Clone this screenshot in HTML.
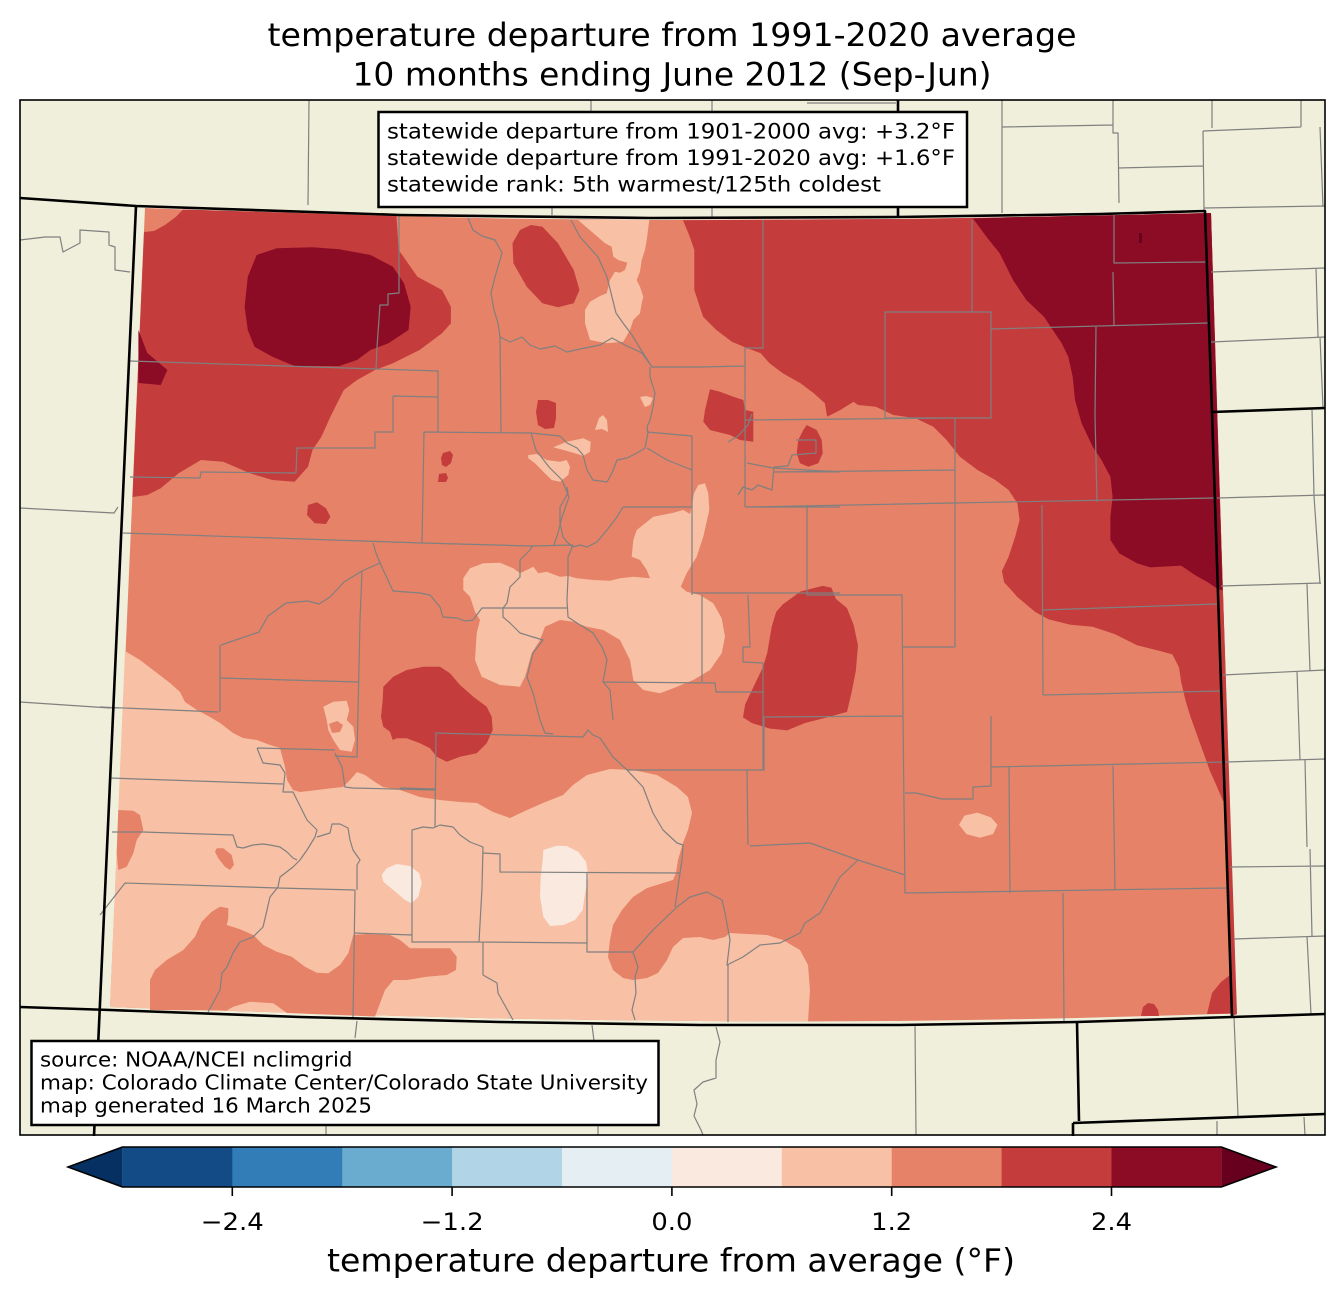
<!DOCTYPE html>
<html><head><meta charset="utf-8">
<style>
html,body{margin:0;padding:0;background:#fff;}
svg{display:block;}
text{font-family:"DejaVu Sans","Liberation Sans",sans-serif;fill:#000;}
</style></head>
<body>
<svg xmlns="http://www.w3.org/2000/svg" width="1344" height="1299" viewBox="0 0 1344 1299">
<rect width="1344" height="1299" fill="#fff"/>
<!-- title -->
<text x="672" y="46" font-size="32" text-anchor="middle" textLength="809" lengthAdjust="spacingAndGlyphs">temperature departure from 1991-2020 average</text>
<text x="672" y="85.5" font-size="32" text-anchor="middle" textLength="639" lengthAdjust="spacingAndGlyphs">10 months ending June 2012 (Sep-Jun)</text>

<!-- map background -->
<rect x="20" y="100" width="1305" height="1035" fill="#efefdb"/>

<!-- Colorado base fill (medium) -->
<path fill="#e58267" d="M145,208 L183,209.5 L300,213 L400,216 L500,218.5 L650,220 L800,219.5 L900,219 L1000,217.5 L1100,215.5 L1211,213 L1236,1013.5 L1150,1016 L1077,1018 L1000,1019.5 L900,1021 L800,1021.5 L700,1021 L600,1020 L500,1018.5 L400,1016 L300,1013 L200,1010 L110,1007 Z"/>

<!-- light (bin7) regions -->
<g fill="#f8c0a4">
<path d="M578,220 L591.7,231.7 L605,243.3 L611.7,246.7 L613.3,256.7 L618.3,260 L627.3,262.7 L625,270 L620,272.7 L615,271.7 L610,280 L606.7,293.3 L600,296 L590,301.7 L585,310 L585,323.3 L590,340 L606.7,343.3 L623.3,341.7 L630,330 L633.3,320 L640,313.3 L641.7,303.3 L643.3,296.7 L640,286.7 L636.7,280 L640,271.7 L641.7,260 L645,250 L646.7,240 L649.3,220 Z"/>
<path d="M463.3,578.3 L470,568.3 L483.3,563.3 L500,562.7 L513.3,568.3 L520,573.3 L526.7,570 L533.3,566.7 L538.3,573.3 L546.7,571.7 L560,576.7 L568.3,576 L576.7,578.3 L593.3,580 L610,580.7 L620,578.3 L633.3,576.7 L650,578.3 L646.7,570 L640,560 L631.7,556.7 L633.3,540 L636.7,530 L653.3,516.7 L673.3,512.7 L683.3,510 L690,514 L691.7,506.7 L694,493.3 L698.3,485 L705,483.3 L708.3,493.3 L709.3,510 L703.3,536.7 L696.7,556.7 L686.7,573.3 L680.7,586.7 L686.7,591.7 L700,595 L713.3,603.3 L721.7,618.3 L725,636.7 L721.7,653.3 L710,670 L693.3,680 L673.3,688.3 L660,693.3 L643.3,690 L633.3,680 L630,660 L620,640 L603.3,630 L586.7,626.7 L573.3,621.7 L560,620 L545,626.7 L540,640 L531.7,653.3 L525,676.7 L520,686.7 L500,685 L481.7,676.7 L475,660 L476.7,633.3 L480,620 L475,611.7 L470,596.7 L463.3,590 Z"/>
<path d="M125,651 L140,660 L157,673 L170,683 L180,692 L185,702 L197,710 L210,717 L220,723 L233,733 L243,738 L257,740 L270,745 L280,748 L285,767 L287,780 L293,790 L300,792 L317,790 L333,788 L343,787 L350,780 L357,772 L365,775 L375,782 L383,787 L400,790 L420,797 L440,800 L460,802 L477,803 L493,812 L510,818 L527,810 L543,803 L563,795 L573,785 L587,775 L610,769 L633,770 L657,775 L677,787 L688,797 L692,813 L688,830 L683,843 L678,860 L676,873 L673,880 L660,884 L647,888 L633,897 L622,910 L613,925 L610,940 L608,957 L613,970 L623,978 L633,980 L647,978 L658,973 L667,960 L673,947 L683,938 L700,937 L713,940 L725,937 L730,933 L747,934 L767,935 L783,940 L800,950 L808,965 L810,990 L808,1021.5 L700,1021 L600,1020 L500,1018.5 L400,1016 L300,1013 L200,1010 L110,1007 Z"/>
<path d="M323.3,706.7 L333.3,701.7 L346.7,700.7 L349.3,710 L346.7,720 L353.3,726.7 L355,740 L351.7,751.7 L340,750 L333.3,740 L328.3,730 L326.7,720 Z"/>
<path d="M640,397 L646,396 L653,398 L650,405 L645,407 Z"/>
<path d="M595,430 L599,418 L603,415 L607,420 L608,432 L602,429 Z"/>
<path d="M553.3,447.3 L566.7,441.7 L583.3,438.3 L590.7,441.7 L590,451.7 L583.3,456 L573.3,452.7 L563.3,450 Z"/>
<path d="M528.3,455 L536.7,454 L546.7,460 L560,461.7 L566.7,460 L570,466.7 L568.3,475 L560,481.7 L551.7,480 L543.3,471.7 L535,463.3 L528.3,458.3 Z"/>
<path d="M964.3,815.6 L977.6,812.6 L990.9,817.4 L997.5,824.8 L993.1,834.1 L979.8,837.8 L966.5,834.1 L959,824.8 Z"/>
</g>

<!-- medium overlays -->
<g fill="#e58267">
<path d="M118.3,810 L133.3,810.7 L140,815 L143.3,830 L136.7,840 L133.3,853.3 L126.7,866.7 L118.3,870 L116.7,853.3 Z"/>
<path d="M216.7,848.3 L223.3,848.3 L231.7,855 L234,865 L230,870 L225,866.7 L218.3,858.3 L215,851.7 Z"/>
<path d="M150,1010 L150,980 L155,970 L166.7,960 L183.3,950 L195,936.7 L201.7,921.7 L211.7,911.7 L220,906.7 L228.3,908.3 L228.3,918.3 L226.7,925 L240,929.3 L253.3,935 L263.3,945 L276.7,951.7 L291.7,956.7 L305,966.7 L316.7,972.7 L328.3,973.3 L340,965 L348.3,953.3 L353.3,935 L366.7,934 L390,935 L400,940 L410,948.3 L433.3,948.3 L450,948.3 L456.7,956.7 L456,970 L446.7,975 L426.7,976.7 L406.7,980 L393.3,980 L385,990 L380,1003.3 L375,1016.5 L300,1013.5 L287,1013 L273.3,1003.3 L250,1001.7 L233.3,1006.7 L226.7,1010.5 Z"/>
<path d="M329,724 L337,721 L343,725 L340,732 L332,733 Z"/>
</g>

<!-- lightest (bin6) -->
<g fill="#fae9df">
<path d="M386.7,868.3 L396.7,864 L410,866 L419.3,873.3 L421.7,883.3 L418.3,896.7 L411.7,903.3 L405,900 L393.3,890 L383.3,881.7 L381.7,875 Z"/>
<path d="M543.3,850 L556.7,845.7 L566.7,846 L578.3,851.7 L586,861.7 L588.3,876.7 L585,893.3 L582.7,910 L575,920 L563.3,925 L550,926 L543.3,916.7 L540,896.7 L540.7,876.7 L542.7,860 Z"/>
</g>

<!-- red (bin9) -->
<g fill="#c43c3c">
<path d="M183,209.5 L300,213 L396.4,216.3 L398.7,250 L417.4,276.7 L442,290 L450.9,306.7 L450.9,323.3 L442,333.3 L419.6,350 L392.9,363.3 L375,370 L357,380 L343.8,390 L330.4,416.7 L321.4,436.7 L312.5,450 L308,466.7 L294.6,481.7 L272.3,480 L250,473.3 L223.2,461.7 L200.9,460 L178.6,473.3 L160.7,488.3 L147.3,495 L132.5,497 L144,232 L154,231 L165,225 L176,216.7 Z"/>
<path d="M683,220.3 L800,219.5 L900,219 L1000,217.5 L1100,215.5 L1211,213 L1229.5,800 L1223,800.7 L1216.6,785.9 L1210,771.1 L1203.4,752.6 L1196.7,734.1 L1190.1,715.6 L1185.6,700.7 L1181.2,682.2 L1179,667.4 L1172.4,654.4 L1159.1,650.7 L1137,645.2 L1114.8,634.1 L1092.7,626.7 L1070.5,624.8 L1048.4,619.3 L1035.1,611.9 L1017.4,597 L1004.1,582.2 L1001.9,571.1 L1008.6,556.7 L1015.2,536.7 L1019.6,520 L1017.4,503.3 L1008.6,490 L995.3,480 L977.6,470 L959.9,456.7 L946.6,440 L933.3,426.7 L915.6,418.3 L893.5,415 L875.8,406.7 L858,405 L853.6,401.7 L840.3,410 L827.1,416.7 L824.9,403.3 L813.8,393.3 L800.5,383.3 L782.8,373.3 L769.5,363.3 L760.7,353.3 L747.4,348.3 L731.9,341.7 L716.4,330 L703.1,316.7 L694.3,290 L694.3,250 L689.8,236.7 Z"/>
<path d="M1212,412 L1217,412 L1237,1014 L1232,1016 Z"/>
<path d="M531,225 L542.4,226.7 L558,243.3 L573.7,270 L579.5,290 L573.7,303.3 L558,307.3 L542.4,303.3 L526.8,286.7 L513.4,263.3 L512.5,243.3 L520,230 Z"/>
<path d="M538,400 L548,400 L556,403 L556,418 L554,428 L545,429 L538,425 L536,412 Z"/>
<path d="M443,453 L450,451 L453,455 L451,463 L446,467 L442,465 L441,458 Z"/>
<path d="M439,474 L446,473 L448,478 L446,482 L438,482 Z"/>
<path d="M308,505 L317,502.3 L326,508.3 L330.4,516.7 L326,524 L314.7,523.3 L307,515 Z"/>
<path d="M710,389.3 L720,391.7 L733.3,396.7 L743.3,400 L745,410 L753.3,411.7 L753.3,441.7 L740,440 L730,435 L710,430 L703.3,421.7 L705,410 Z"/>
<path d="M806.7,425 L816.7,430 L821.7,440 L822.7,453.3 L818.3,463.3 L808.3,466.7 L800,463.3 L796.7,453.3 L798.3,440 L803.3,430 Z"/>
<path d="M383.3,686.7 L393.3,676.7 L406.7,670 L423.3,666.7 L440,666.7 L450,673.3 L460,685 L473.3,696.7 L486.7,706.7 L491.7,716.7 L492.7,730 L486.7,743.3 L476.7,753.3 L460,756.7 L446.7,761.7 L436.7,756.7 L430,748.3 L420,743.3 L406.7,738.3 L396.7,738.3 L392.7,740 L390,731.7 L383.3,726.7 L381,716.7 L382.7,700 Z"/>
<path d="M782.8,604.4 L800.5,591.5 L822.6,585.9 L831.5,587.8 L835.9,598.9 L847,608.1 L853.6,624.8 L858,645.2 L855.8,671.1 L851.4,693.3 L847,711.9 L827.1,717.4 L804.9,723 L787.2,730.4 L769.5,728.5 L751.8,723 L743,717.4 L745.2,704.4 L754,685.9 L762.9,667.4 L767.3,652.6 L771.7,626.7 L776.2,611.9 Z"/>
<path d="M1230,975 L1221,982 L1212,993 L1207,1014 L1236,1013.5 Z"/>
<path d="M1141,1016 L1143,1007 L1148,1003 L1154,1004 L1158,1010 L1159,1016 Z"/>
</g>

<!-- dark (bin10) -->
<g fill="#8c0c25">
<path d="M256.7,255 L276.8,248.3 L312.5,247.3 L339.3,249.3 L370.5,255 L392.9,266.7 L404,283.3 L410.7,306.7 L408.5,330 L388.4,343.3 L370.5,350 L357,360 L339.3,366 L294.6,366 L272.3,356.7 L254.5,346.7 L247.8,330 L244.6,306.7 L247.8,276.7 Z"/>
<path d="M138.4,330 L147.3,353 L167.4,370 L160.7,385 L138.4,383 Z"/>
<path d="M973,218.5 L1000,217.5 L1100,215.5 L1211,213 L1222.5,590 L1218.8,589.6 L1207.8,582.2 L1194.5,574.8 L1181.2,565.6 L1150.2,567.4 L1136.9,563.3 L1119.2,553.3 L1110.4,540 L1110.4,516.7 L1112.6,496.7 L1110.4,476.7 L1101.5,460 L1092.7,446.7 L1081.6,423.3 L1075,400 L1072.7,376.7 L1068.3,356.7 L1061.7,343.3 L1052.8,330 L1044,316.7 L1026.3,300 L1013,280 L999.7,253.3 L986.4,236.7 Z"/>
</g>
<rect x="1139" y="233" width="3" height="10" fill="#67001f"/>

<!-- county lines -->
<path fill="none" stroke="#808080" stroke-width="1.2" stroke-linejoin="round" d="
M399,216 L399,293 L388,294 L388,305 L380,305 L377,347 L376,369
M130,361 L376,369 L438,371 L438,432
M393,396 L438,397 M393,396 L393,432 L375,432 L375,448 L297,448 L296,473 L201,472 L200,478 L130,477
M123,533 L422,543 L531,546 L573,545
M424,432 L531,433 L560,436 M424,432 L422,543
M468,218 L473,230 L482,236 L495,240 L502,253 L495,277 L491,293 L494,310 L498,323 L500,337 L501,433
M500,337 L510,342 L522,337 L530,345 L540,349 L555,346 L567,352 L580,349 L600,345 L612,338 L625,345 L642,353 L652,367
M571,220 L580,237 L598,257 L607,277 L612,297 L616,313 L623,323 L632,335 L643,353 L652,367 L700,367 L745,366
M763,220 L763,348 L745,348 L745,507
M972,220 L972,312 M885,312 L991,312 L991,418 L885,418 Z
M991,329 L1208,323
M1114,215 L1114,263 L1206,262 M1113,272 L1114,325 M1096,327 L1095,415 L1097,502
M745,420 L955,418 L955,647 M745,507 L1214,498 M774,472 L955,470
M796,440 L816,440 L816,453 L792,455 L788,466 L774,467 L772,490 L758,485 L752,490 L743,487 L738,495
M728,442 L738,436 L748,425 L752,414
M647,432 L692,436 L692,595 M623,507 L692,507
M647,448 L667,460 L687,468 L692,470
M560,436 L567,443 L577,448 L583,455 L587,470 L593,480 L607,482 L612,473 L617,460 L627,458 L637,453 L645,448 L648,433 L647,427 L650,420 L653,407 L655,393 L650,377 L650,367
M531,433 L536,450 L549,467 L562,480 L569,497 L562,517 L558,533 L554,545
M567,487 L568,493 L560,507 L560,523 L563,537 L567,542 L573,547
M623,507 L617,517 L607,530 L597,542 L587,547 L580,545 L573,547
M573,545 L568,557 L568,577 L567,600 L568,617 L577,623 L593,633 L602,647 L607,660 L603,682 L610,690 L613,720
M533,545 L530,550 L520,560 L520,577 L510,587 L507,603 L503,608 L567,608
M380,563 L393,591 L420,593 L430,595 L440,607 L443,617 L457,618 L465,621 L473,620 L482,608 L503,608
M373,543 L376,553 L380,563 L362,571 L360,620 L357,757 L335,756
M221,645 L259,632 L268,616 L286,603 L308,601 L319,604 L330,597 L344,582 L362,571
M503,608 L503,617 L510,623 L520,633 L533,637 L543,640 L533,653 L527,677 L533,693 L540,720 L545,733 L553,734
M603,682 L715,683 L716,692 L763,692
M692,593 L840,593 M702,595 L702,682 M748,595 L750,647 L743,647 L743,662 L763,663 L763,770
M807,507 L807,595 M745,507 L840,507 M747,463 L773,468 L840,472 M747,420 L840,419
M807,560 L807,595 L902,595 L903,716 M902,647 L955,647
M1042,505 L1043,695 M1043,610 L1217,604 M1043,695 L1221,691
M764,717 L903,716 M764,717 L764,771
M903,716 L905,893 L1226,888
M991,716 L991,786 L973,787 L973,799 L942,799 L916,793 L905,793
M991,767 L1226,762 M1009,767 L1010,893 M1113,766 L1115,890 M1063,893 L1064,1021
M750,846 L810,843 L858,860 L905,875
M858,860 L840,877 L820,913 L805,923 L800,933 L780,943 L760,945 L743,957 L727,965 L730,940 L725,913 L722,900 L707,892 L690,897 L677,907 L653,930 L633,952
M728,965 L728,1022
M633,952 L587,952 L587,873 M483,853 L500,854 L500,872 L680,873
M412,830 L423,827 L433,828 L440,825 L453,827 L460,835 L470,842 L483,847 L482,888 L479,942 L412,942 Z
M478,942 L587,943 M483,942 L483,975 L497,983 L498,993 L513,1020
M633,952 L638,967 L635,977 L636,993 L632,1010 L635,1020
M400,788 L435,789 M436,733 L435,827
M435,733 L583,737 L588,730 L593,735 L600,738 L613,757 L627,770 L643,787 L653,813 L663,830 L677,843 L683,845 L682,860 L680,873 L675,907
M627,770 L763,770 M747,770 L748,845
M220,645 L220,712 M100,707 L218,712 M220,678 L358,682
M257,748 L335,750
M257,748 L263,763 L280,765 L285,773 L283,792 L293,792 L307,820 L317,830 L315,837 L307,850 L300,860 L293,867 L280,877 L278,887 L270,897 L267,910 L263,927 L253,937 L240,942 L233,953 L227,967 L222,973 L220,990 L213,1003 L208,1012
M335,753 L342,767 L345,787 L353,788 L435,790
M110,778 L283,784
M317,837 L330,833 L332,824 L340,824 L348,828 L350,840 L353,850 L360,860 L357,865 L357,890
M112,832 L143,832 L233,835 L237,847 L243,848 L253,845 L263,844 L270,845 L280,847 L287,852 L293,858 L297,860
M125,883 L278,888 L355,890 M125,883 L100,915
M355,890 L353,1017 M355,933 L412,935
M309,100 L308,205 M591,100 L591,112 M552,207 L552,215 M712,100 L712,112 M712,207 L712,217 M807,103 L896,103
M1002,100 L1002,213 M1002,127 L1113,125 M1113,100 L1113,133 L1118,133 L1119,203 M1118,168 L1203,166
M1212,100 L1212,128 M1203,131 L1301,127 M1301,100 L1301,127 M1203,131 L1204,210 M1204,208 L1325,206 M1320,127 L1323,207
M1211,272 L1325,268 M1316,268 L1318,337 M1211,342 L1325,337 M1320,337 L1323,408
M1217,498 L1325,495 M1312,410 L1314,496 L1320,584 M1221,586 L1321,583 M1307,584 L1310,671
M1223,675 L1325,670 M1297,671 L1300,760 M1226,762 L1325,759 M1305,760 L1307,847
M1230,867 L1325,866 M1310,849 L1312,936 M1234,939 L1325,936 M1307,936 L1311,1014
M1234,1017 L1238,1116 M1217,1121 L1217,1135 M1304,1117 L1305,1135
M915,1025 L916,1135
M716,1027 L720,1042 L716,1060 L716,1078 L703,1082 L694,1090 L697,1104 L694,1116 L701,1130 L703,1135
M357,1021 L355,1038 M592,1025 L594,1041 M326,1124 L326,1135 M598,1124 L598,1135
M20,240 L45,237 L60,237 L63,252 L80,243 L80,230 L109,232 L109,245 L115,247 L115,270 L130,272
M20,508 L114,513 L118,507
M20,702 L110,708
"/>

<!-- state borders -->
<g fill="none" stroke="#000" stroke-width="2.6" stroke-linejoin="round">
<path d="M20,198 L136,206 L400,215 L650,218 L898,217 L1100,214 L1205,211 L1212,412 L1232,1017"/>
<path d="M136,206 L94,1136"/>
<path d="M20,1007 L110,1010 L300,1017 L500,1022 L700,1025 L900,1025 L1077,1022 L1232,1017 L1325,1014"/>
<path d="M898,100 L898,217"/>
<path d="M1212,412 L1325,408"/>
<path d="M1077,1022 L1079,1121 M1073,1123 L1325,1114 M1073,1123 L1073,1136"/>
</g>
<rect x="20" y="100" width="1305" height="1035" fill="none" stroke="#000" stroke-width="1.6"/>

<!-- stats box -->
<rect x="378.5" y="112" width="588.5" height="95" fill="#fff" stroke="#000" stroke-width="2.5"/>
<text x="387" y="138.5" font-size="21.5" textLength="568" lengthAdjust="spacingAndGlyphs">statewide departure from 1901-2000 avg: +3.2°F</text>
<text x="387" y="165" font-size="21.5" textLength="568" lengthAdjust="spacingAndGlyphs">statewide departure from 1991-2020 avg: +1.6°F</text>
<text x="387" y="191.5" font-size="21.5" textLength="494" lengthAdjust="spacingAndGlyphs">statewide rank: 5th warmest/125th coldest</text>

<!-- source box -->
<rect x="31.5" y="1041" width="627" height="84" fill="#fff" stroke="#000" stroke-width="2.5"/>
<text x="40" y="1066.5" font-size="20.5" textLength="312.5" lengthAdjust="spacingAndGlyphs">source: NOAA/NCEI nclimgrid</text>
<text x="40" y="1089.5" font-size="20.5" textLength="608" lengthAdjust="spacingAndGlyphs">map: Colorado Climate Center/Colorado State University</text>
<text x="40" y="1112.5" font-size="20.5" textLength="332" lengthAdjust="spacingAndGlyphs">map generated 16 March 2025</text>

<!-- colorbar -->
<path d="M68,1167 L122.4,1147 L122.4,1187 Z" fill="#053061"/>
<rect x="122.4" y="1147" width="110.4" height="40" fill="#134b87"/>
<rect x="232.3" y="1147" width="110.4" height="40" fill="#327cb7"/>
<rect x="342.2" y="1147" width="110.4" height="40" fill="#6aacd0"/>
<rect x="452.1" y="1147" width="110.4" height="40" fill="#b1d5e7"/>
<rect x="562.0" y="1147" width="110.4" height="40" fill="#e4eef3"/>
<rect x="671.9" y="1147" width="110.4" height="40" fill="#fae9df"/>
<rect x="781.8" y="1147" width="110.4" height="40" fill="#f8c0a4"/>
<rect x="891.7" y="1147" width="110.4" height="40" fill="#e58267"/>
<rect x="1001.6" y="1147" width="110.4" height="40" fill="#c43c3c"/>
<rect x="1111.5" y="1147" width="109.9" height="40" fill="#8c0c25"/>
<path d="M1221.4,1147 L1276,1167 L1221.4,1187 Z" fill="#67001f"/>
<path d="M68,1167 L122.4,1147 L1221.4,1147 L1276,1167 L1221.4,1187 L122.4,1187 Z" fill="none" stroke="#000" stroke-width="1.6"/>
<g stroke="#000" stroke-width="1.6">
<line x1="232.3" y1="1187" x2="232.3" y2="1196"/>
<line x1="452.1" y1="1187" x2="452.1" y2="1196"/>
<line x1="671.9" y1="1187" x2="671.9" y2="1196"/>
<line x1="891.7" y1="1187" x2="891.7" y2="1196"/>
<line x1="1111.5" y1="1187" x2="1111.5" y2="1196"/>
</g>
<g font-size="24" text-anchor="middle">
<text x="232.3" y="1230" textLength="63" lengthAdjust="spacingAndGlyphs">−2.4</text>
<text x="452.1" y="1230" textLength="63" lengthAdjust="spacingAndGlyphs">−1.2</text>
<text x="671.9" y="1230" textLength="41" lengthAdjust="spacingAndGlyphs">0.0</text>
<text x="891.7" y="1230" textLength="41" lengthAdjust="spacingAndGlyphs">1.2</text>
<text x="1111.5" y="1230" textLength="41" lengthAdjust="spacingAndGlyphs">2.4</text>
</g>
<text x="671" y="1271.5" font-size="32" text-anchor="middle" textLength="688" lengthAdjust="spacingAndGlyphs">temperature departure from average (°F)</text>
</svg>
</body></html>
